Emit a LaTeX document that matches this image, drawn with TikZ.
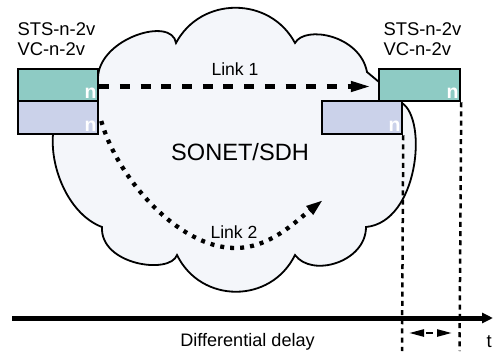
\documentclass[tikz,border=0pt]{standalone}
\usepackage{fontspec}
\setmainfont{Liberation Sans}
\usetikzlibrary{arrows.meta,calc}
\definecolor{tealbox}{HTML}{8ECBC4}
\definecolor{lavbox}{HTML}{CBD2EA}
\definecolor{cloudfill}{HTML}{F4F6FA}
\begin{document}
\begin{tikzpicture}[x=1pt,y=-1pt,
  cloudshape/.style={draw=black, line width=1.8pt, fill=cloudfill},
  tealframe/.style={draw=black, line width=2.5pt, fill=tealbox, inner sep=0pt, minimum height=32pt},
  lavframe/.style={draw=black, line width=2.5pt, fill=lavbox, inner sep=0pt, minimum height=33pt},
  nlabel/.style={text=white, font=\fontsize{19.5}{22}\selectfont\bfseries, inner sep=0pt, anchor=base east},
  lbl/.style={font=\fontsize{18.4}{22}\selectfont, inner sep=0pt},
  linklbl/.style={font=\fontsize{17.6}{21}\selectfont, inner sep=0pt, anchor=base},
  linkone/.style={line width=4.3pt, dash pattern=on 10pt off 10.7pt, -{Triangle[length=20pt,width=10pt]}},
  linktwo/.style={line width=4.3pt, dash pattern=on 4pt off 6pt, -{Triangle[length=17pt,width=10pt]}},
  guide/.style={line width=2.5pt, dash pattern=on 5pt off 4.2pt},
  timeline/.style={line width=5pt, -{Triangle[length=11pt,width=10pt]}},
  dimarrow/.style={line width=2.4pt, {Triangle[length=15pt,width=7pt]}-{Triangle[length=15pt,width=7pt]}, dash pattern=on 0pt off 3pt on 7pt off 30pt}
]
\useasboundingbox (0,0) rectangle (493,351);

% cloud
\path[cloudshape] (98,77) .. controls (100,38) and (172,16) .. (176,43)
  .. controls (201,-4) and (270,-4) .. (295,43)
  .. controls (305,25) and (360,35) .. (367,72)
  -- (379,82) -- (402,103)
  .. controls (428,120) and (418,222) .. (366,227)
  .. controls (366,262) and (312,278) .. (295,255)
  .. controls (271,304) and (201,304) .. (177,255)
  .. controls (170,275) and (100,265) .. (102,227)
  .. controls (70,215) and (50,170) .. (53,134)
  -- (60,100) -- cycle;

% boxes
\node[tealframe, minimum width=80pt] (lt) at (58,85) {};
\node[lavframe, minimum width=80pt] (ll) at (58,117.5) {};
\node[tealframe, minimum width=81pt] (rt) at (419.5,85) {};
\node[lavframe, minimum width=80pt] (rl) at (362,117.5) {};

\node[nlabel] (nlt) at ($(lt.south east)+(-2.5,-3.3)$) {n};
\node[nlabel] (nll) at ($(ll.south east)+(-2.5,-3.3)$) {n};
\node[nlabel] (nrt) at ($(rt.south east)+(-2.5,-3.3)$) {n};
\node[nlabel] (nrl) at ($(rl.south east)+(-2.5,-3.3)$) {n};

% labels
\node[lbl, anchor=base west] (ls1) at (17.3,35) {STS-n-2v};
\node[lbl, anchor=base west] (ls2) at (17.3,55) {VC-n-2v};
\node[lbl, anchor=base west] (rs1) at (383.3,35) {STS-n-2v};
\node[lbl, anchor=base west] (rs2) at (383.3,55) {VC-n-2v};

\node[linklbl] (l1lbl) at (235,75) {Link 1};
\node[linklbl] (l2lbl) at (234,238.3) {Link 2};
\node[font=\fontsize{23.6}{28}\selectfont, inner sep=0pt, anchor=base] (sonet) at (240,160) {SONET/SDH};

% links
\draw[linkone, shorten >=7pt] ([yshift=-1.5pt]lt.east) -- ([yshift=-1.5pt]rt.west);
\coordinate (l2start) at ($(ll.east)+(2,3.5)$);
\coordinate (l2mid) at (235,248);
\coordinate (l2end) at (323,200);
\draw[linktwo] (l2start) .. controls (118,180) and (180,248) .. (l2mid)
  .. controls (270,248) and (295,222) .. (l2end);

% guides
\coordinate (g1) at (402,351);
\coordinate (g2) at (459.5,351);
\draw[guide] (rl.south east) -- (g1);
\draw[guide] (rt.south east) -- (g2);

% time axis
\coordinate (t0) at (12,318);
\coordinate (t1) at (493,318);
\draw[timeline] (t0) -- (t1);
\node[lbl, anchor=base west] (tlbl) at (486.5,347) {t};
\node[lbl, font=\fontsize{18.1}{22}\selectfont, anchor=base] (dd) at (247.5,346.5) {Differential delay};

\coordinate (d1) at (409,333);
\coordinate (d2) at (452,333);
\draw[dimarrow] (d1) -- (d2);
\end{tikzpicture}
\end{document}
